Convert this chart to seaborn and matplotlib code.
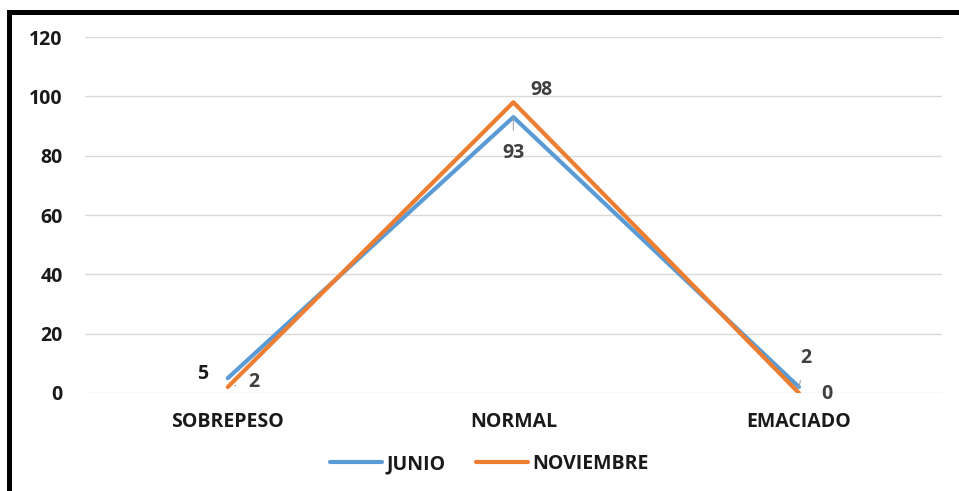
import matplotlib
matplotlib.use("Agg")
import matplotlib.pyplot as plt
import seaborn as sns
import pandas as pd
from matplotlib.lines import Line2D

categorias = ["SOBREPESO", "NORMAL", "EMACIADO"]
junio = [5, 93, 2]
noviembre = [2, 98, 0]
series = ["JUNIO", "NOVIEMBRE"]
colores = ["#5B9BD5", "#ED7D31"]
yticks = [0, 20, 40, 60, 80, 100, 120]

sns.set_theme(style="white")
plt.rcParams["font.family"] = ["Open Sans", "DejaVu Sans"]

df = pd.DataFrame({
    "categoria": categorias * 2,
    "pos": list(range(len(categorias))) * 2,
    "valor": junio + noviembre,
    "serie": [series[0]] * 3 + [series[1]] * 3,
})

fig = plt.figure(figsize=(9.59, 4.91), dpi=100)
ax = fig.add_axes([0.0886, 0.1996, 0.8934, 0.725])

for y in yticks:
    ax.axhline(y, color="#d9d9d9", lw=1.0, zorder=0)

sns.lineplot(data=df, x="pos", y="valor", hue="serie", palette=colores,
             linewidth=3.0, ax=ax, legend=False, sort=False)

FS = 14
ax.set_xlim(-0.5, 2.5)
ax.set_ylim(0, 120)
ax.set_xticks(range(len(categorias)))
ax.set_xticklabels(categorias, fontsize=FS, fontweight="bold", color="#1a1a1a")
ax.set_yticks(yticks)
ax.set_yticklabels([str(v) for v in yticks], fontsize=FS, fontweight="bold", color="#1a1a1a")
ax.tick_params(axis="x", length=0, pad=14)
ax.tick_params(axis="y", length=0, pad=16)
ax.set_xlabel("")
ax.set_ylabel("")
for s in ax.spines.values():
    s.set_visible(False)

lbl = dict(fontsize=FS, fontweight="bold", color="#404040", ha="center", va="center",
           textcoords="offset points")
lead = dict(arrowstyle="-", color="#a6a6a6", lw=0.8, shrinkA=7, shrinkB=0)
# JUNIO labels
ax.annotate(str(junio[0]), xy=(0, junio[0]), xytext=(-18, 3), **{**lbl, "color": "#1a1a1a"})
ax.annotate(str(junio[1]), xy=(1, junio[1]), xytext=(0, -26), arrowprops=lead, **lbl)
ax.annotate(str(junio[2]), xy=(2, junio[2]), xytext=(5, 21), arrowprops=lead, **lbl)
# NOVIEMBRE labels
ax.annotate(str(noviembre[0]), xy=(0, noviembre[0]), xytext=(19, 4),
            arrowprops=dict(arrowstyle="-", color="#a6a6a6", lw=0.8, shrinkA=7, shrinkB=5), **lbl)
ax.annotate(str(noviembre[1]), xy=(1, noviembre[1]), xytext=(20, 9), **lbl)
ax.annotate(str(noviembre[2]), xy=(2, noviembre[2]), xytext=(20, -1), **lbl)

handles = [Line2D([0], [0], color=c, lw=3.0) for c in colores]
leg = fig.legend(handles, series, loc="center", bbox_to_anchor=(0.51, 0.055), ncol=2,
                 frameon=False, handlelength=2.7, columnspacing=1.55, handletextpad=0.2,
                 prop={"size": FS, "weight": "bold"})
for t in leg.get_texts():
    t.set_color("#1a1a1a")

# figure border (left and top)
fig.add_artist(Line2D([8.5 / 959, 8.5 / 959], [0, 1 - 12 / 491], transform=fig.transFigure,
                      color="black", lw=3.6, solid_capstyle="projecting"))
fig.add_artist(Line2D([8.5 / 959, 1], [1 - 12 / 491, 1 - 12 / 491], transform=fig.transFigure,
                      color="black", lw=3.6, solid_capstyle="projecting"))

fig.savefig("out.png", dpi=100, facecolor="white")
